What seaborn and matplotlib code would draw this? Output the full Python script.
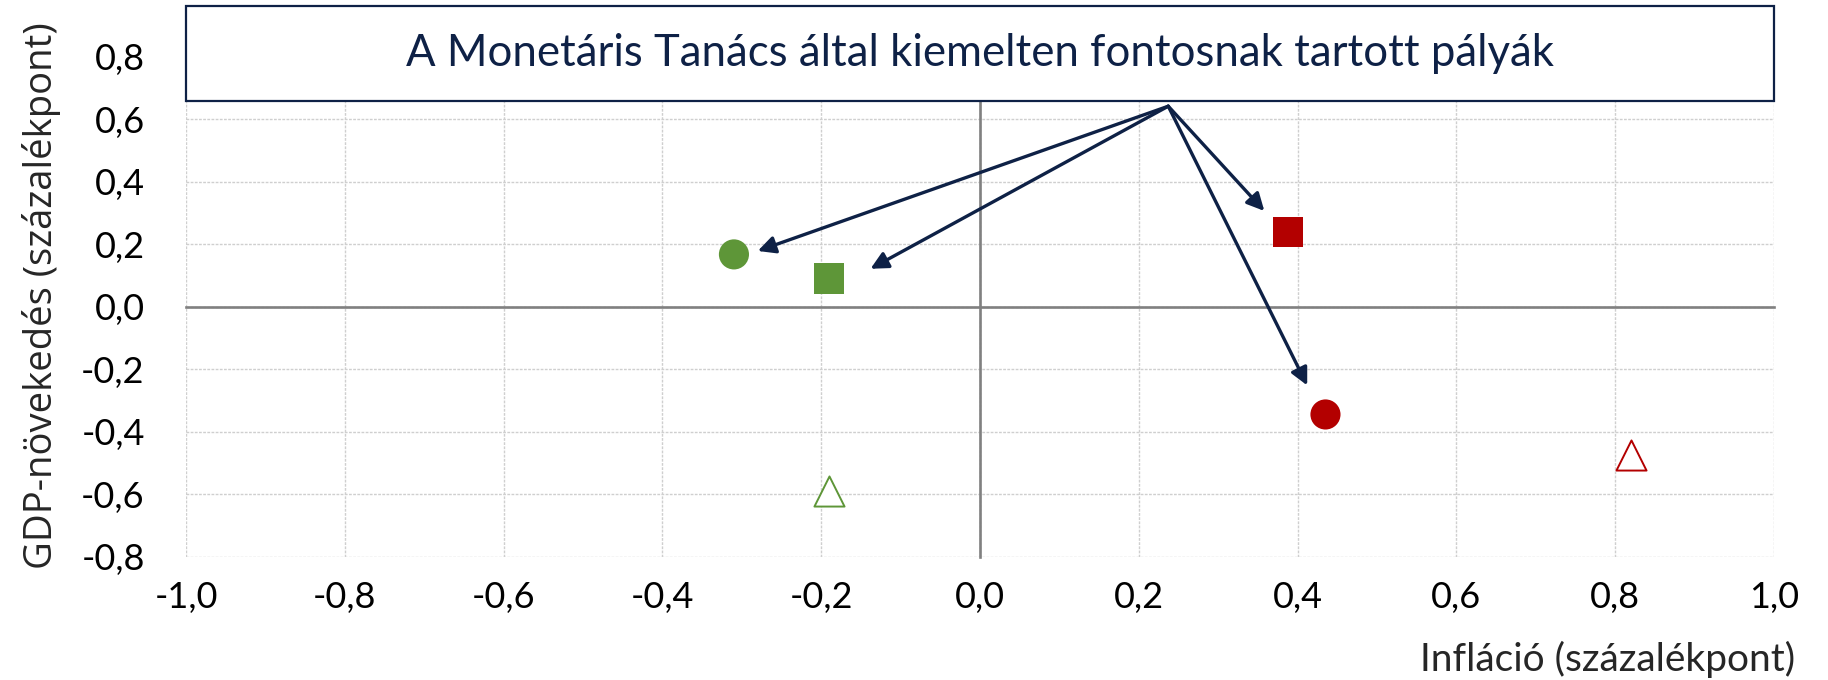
import numpy as np
import pandas as pd
import seaborn as sns
import matplotlib.pyplot as plt
from matplotlib.patches import Rectangle
from matplotlib.ticker import FuncFormatter

# scenario points (inflation, GDP growth, percentage points)
infl_vals = [-0.31, -0.19, 0.388, 0.435, -0.19, 0.82]
gdp_vals = [0.167, 0.09, 0.238, -0.345, -0.59, -0.474]
pt_group = ["zöld", "zöld", "piros", "piros", "zöld", "piros"]
pt_shape = ["kör", "négyzet", "négyzet", "kör", "háromszög", "háromszög"]
pt_filled = [True, True, True, True, False, False]

# arrows from the title box to the highlighted scenarios
arrow_start = (0.237, 0.641)
arrow_tip_x = [-0.28, -0.138, 0.358, 0.412]
arrow_tip_y = [0.178, 0.121, 0.306, -0.252]

x_ticks = [-1.0, -0.8, -0.6, -0.4, -0.2, 0.0, 0.2, 0.4, 0.6, 0.8, 1.0]
y_ticks = [-0.8, -0.6, -0.4, -0.2, 0.0, 0.2, 0.4, 0.6, 0.8]

title_txt = "A Monetáris Tanács által kiemelten fontosnak tartott pályák"
x_title = "Infláció (százalékpont)"
y_title = "GDP-növekedés (százalékpont)"

group_colors = {"zöld": "#5e9638", "piros": "#b30000"}
shape_markers = {"kör": "o", "négyzet": "s", "háromszög": "^"}
navy = "#0e2146"

sns.set_style("white")
plt.rcParams["font.family"] = ["Lato", "DejaVu Sans"]

df = pd.DataFrame({"infl": infl_vals, "gdp": gdp_vals, "group": pt_group,
                   "shape": pt_shape, "filled": pt_filled})

fig = plt.figure(figsize=(18.28, 6.8), dpi=100)
ax = fig.add_axes([0.1018, 0.1813, 0.8687, 0.7356])

full = df[df["filled"]]
sns.scatterplot(data=full, x="infl", y="gdp", hue="group", style="shape",
                palette=group_colors, markers=shape_markers, s=470,
                linewidth=0, legend=False, ax=ax, zorder=3)

opn = df[~df["filled"]]
for _, r in opn.iterrows():
    sns.scatterplot(x=[r["infl"]], y=[r["gdp"]], marker=shape_markers[r["shape"]],
                    s=470, color="white", edgecolor=group_colors[r["group"]],
                    linewidth=1.4, ax=ax, zorder=3)

for tx, ty in zip(arrow_tip_x, arrow_tip_y):
    ax.annotate("", xy=(tx, ty), xytext=arrow_start,
                arrowprops=dict(arrowstyle="-|>", color=navy, lw=2.4,
                                mutation_scale=26, shrinkA=0, shrinkB=0),
                zorder=4)

ax.set_xlim(-1, 1)
ax.set_ylim(-0.8, 0.8)
ax.set_xticks(x_ticks)
ax.set_yticks(y_ticks)
fmt = FuncFormatter(lambda v, p: f"{0.0 if abs(v) < 1e-9 else v:.1f}".replace(".", ","))
ax.xaxis.set_major_formatter(fmt)
ax.yaxis.set_major_formatter(fmt)

ax.grid(True, color="#cfcfcf", linewidth=1.0, linestyle=(0, (2, 1)))
ax.set_axisbelow(True)

# axes cross at zero, labels stay on the outer edges (Excel style)
for side in ["top", "right"]:
    ax.spines[side].set_visible(False)
for side in ["left", "bottom"]:
    ax.spines[side].set_position(("data", 0))
    ax.spines[side].set_color("#808080")
    ax.spines[side].set_linewidth(1.9)
    ax.spines[side].set_zorder(2.5)
ax.tick_params(axis="both", direction="out", length=4.5, width=1.9,
               color="#808080", labelsize=26, labelcolor="black")
ax.tick_params(axis="x", pad=193)
ax.tick_params(axis="y", pad=597)

ax.set_xlabel(x_title, fontsize=28, ha="right", va="center")
ax.xaxis.set_label_coords(1.013, -0.2045)
ax.set_ylabel(y_title, fontsize=27.5, family=["Open Sans", "DejaVu Sans"], va="center")
ax.yaxis.set_label_coords(-0.091, 0.522)

box = Rectangle((0, 0.9116), 1, 0.19, transform=ax.transAxes, facecolor="white",
                edgecolor=navy, linewidth=1.6, clip_on=False, zorder=5)
ax.add_patch(box)
ax.text(0.5, 1.006, title_txt, transform=ax.transAxes, ha="center", va="center",
        fontsize=31.5, color=navy, zorder=6)

fig.savefig("out.png", dpi=100)
